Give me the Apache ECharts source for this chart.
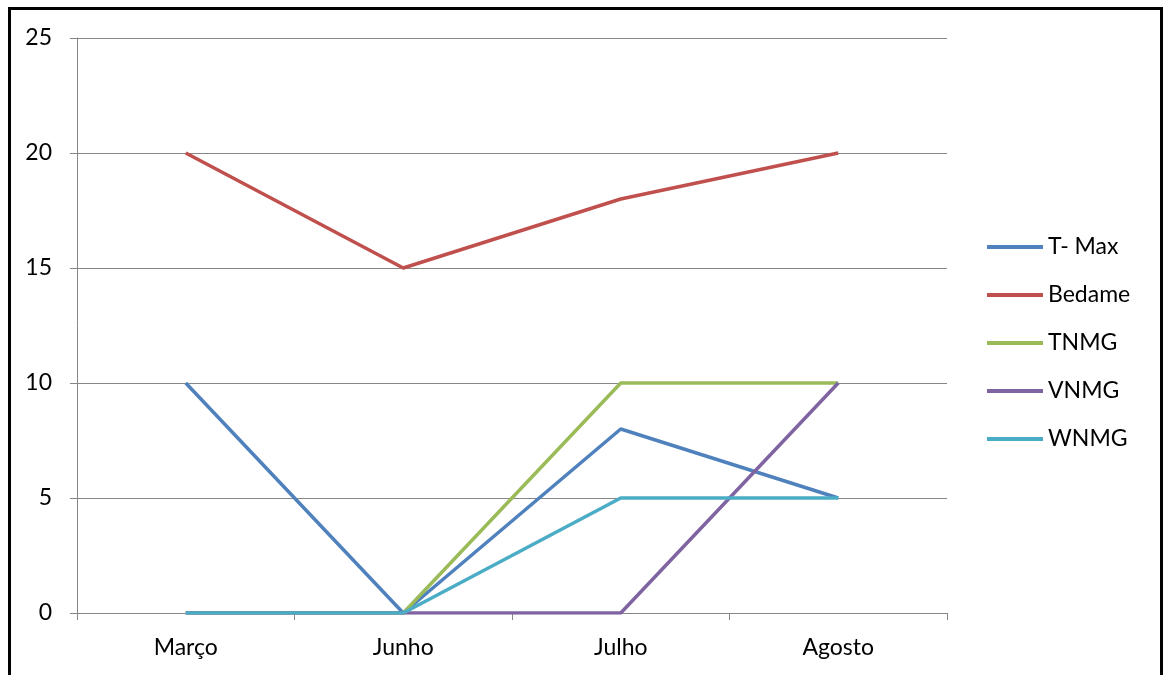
<!DOCTYPE html>
<html>
<head>
<meta charset="utf-8">
<script src="https://cdn.jsdelivr.net/npm/echarts@6/dist/echarts.min.js"></script>
<style>
html,body{margin:0;padding:0;background:#fff;}
#c{width:1167px;height:675px;}
</style>
</head>
<body>
<div id="c"></div>
<script>
const categories = ['Março', 'Junho', 'Julho', 'Agosto'];
const seriesNames = ['T- Max', 'Bedame', 'TNMG', 'VNMG', 'WNMG'];
const tMax = [10, 0, 8, 5];
const bedame = [20, 15, 18, 20];
const tnmg = [0, 0, 10, 10];
const vnmg = [0, 0, 0, 10];
const wnmg = [0, 0, 5, 5];
const colors = ['#4F81BD', '#C0504D', '#9BBB59', '#8064A2', '#4BACC6'];
const allData = [tMax, bedame, tnmg, vnmg, wnmg];

const chart = echarts.init(document.getElementById('c'));
const font = 'Lato, "Open Sans", sans-serif';
chart.setOption({
  animation: false,
  color: colors,
  graphic: [{
    type: 'rect',
    shape: {x: 9.5, y: 8.5, width: 1152, height: 700},
    style: {fill: 'none', stroke: '#000', lineWidth: 3},
    silent: true
  }],
  grid: {left: 77, right: 220, top: 38, bottom: 62},
  legend: {
    orient: 'vertical',
    left: 987,
    top: 235,
    padding: 0,
    icon: 'rect',
    itemWidth: 56,
    itemHeight: 4,
    itemGap: 24,
    textStyle: {fontFamily: font, fontSize: 23, color: '#000', lineHeight: 24},
    data: seriesNames
  },
  xAxis: {
    type: 'category',
    data: categories,
    boundaryGap: true,
    axisLine: {show: true, lineStyle: {color: '#868686', width: 1}},
    axisTick: {show: true, length: 7, lineStyle: {color: '#868686'}},
    axisLabel: {fontFamily: font, fontSize: 23, color: '#000', margin: 23}
  },
  yAxis: {
    type: 'value',
    min: 0, max: 25, interval: 5,
    axisLine: {show: true, lineStyle: {color: '#868686', width: 1}},
    axisTick: {show: true, length: 7, lineStyle: {color: '#868686'}},
    axisLabel: {fontFamily: font, fontSize: 23, color: '#000', margin: 25},
    splitLine: {show: true, lineStyle: {color: '#868686', width: 1}}
  },
  series: seriesNames.map((n, i) => ({
    name: n,
    type: 'line',
    data: allData[i],
    symbol: 'none',
    lineStyle: {width: 3.5, color: colors[i]},
    itemStyle: {color: colors[i]}
  }))
});
</script>
</body>
</html>
